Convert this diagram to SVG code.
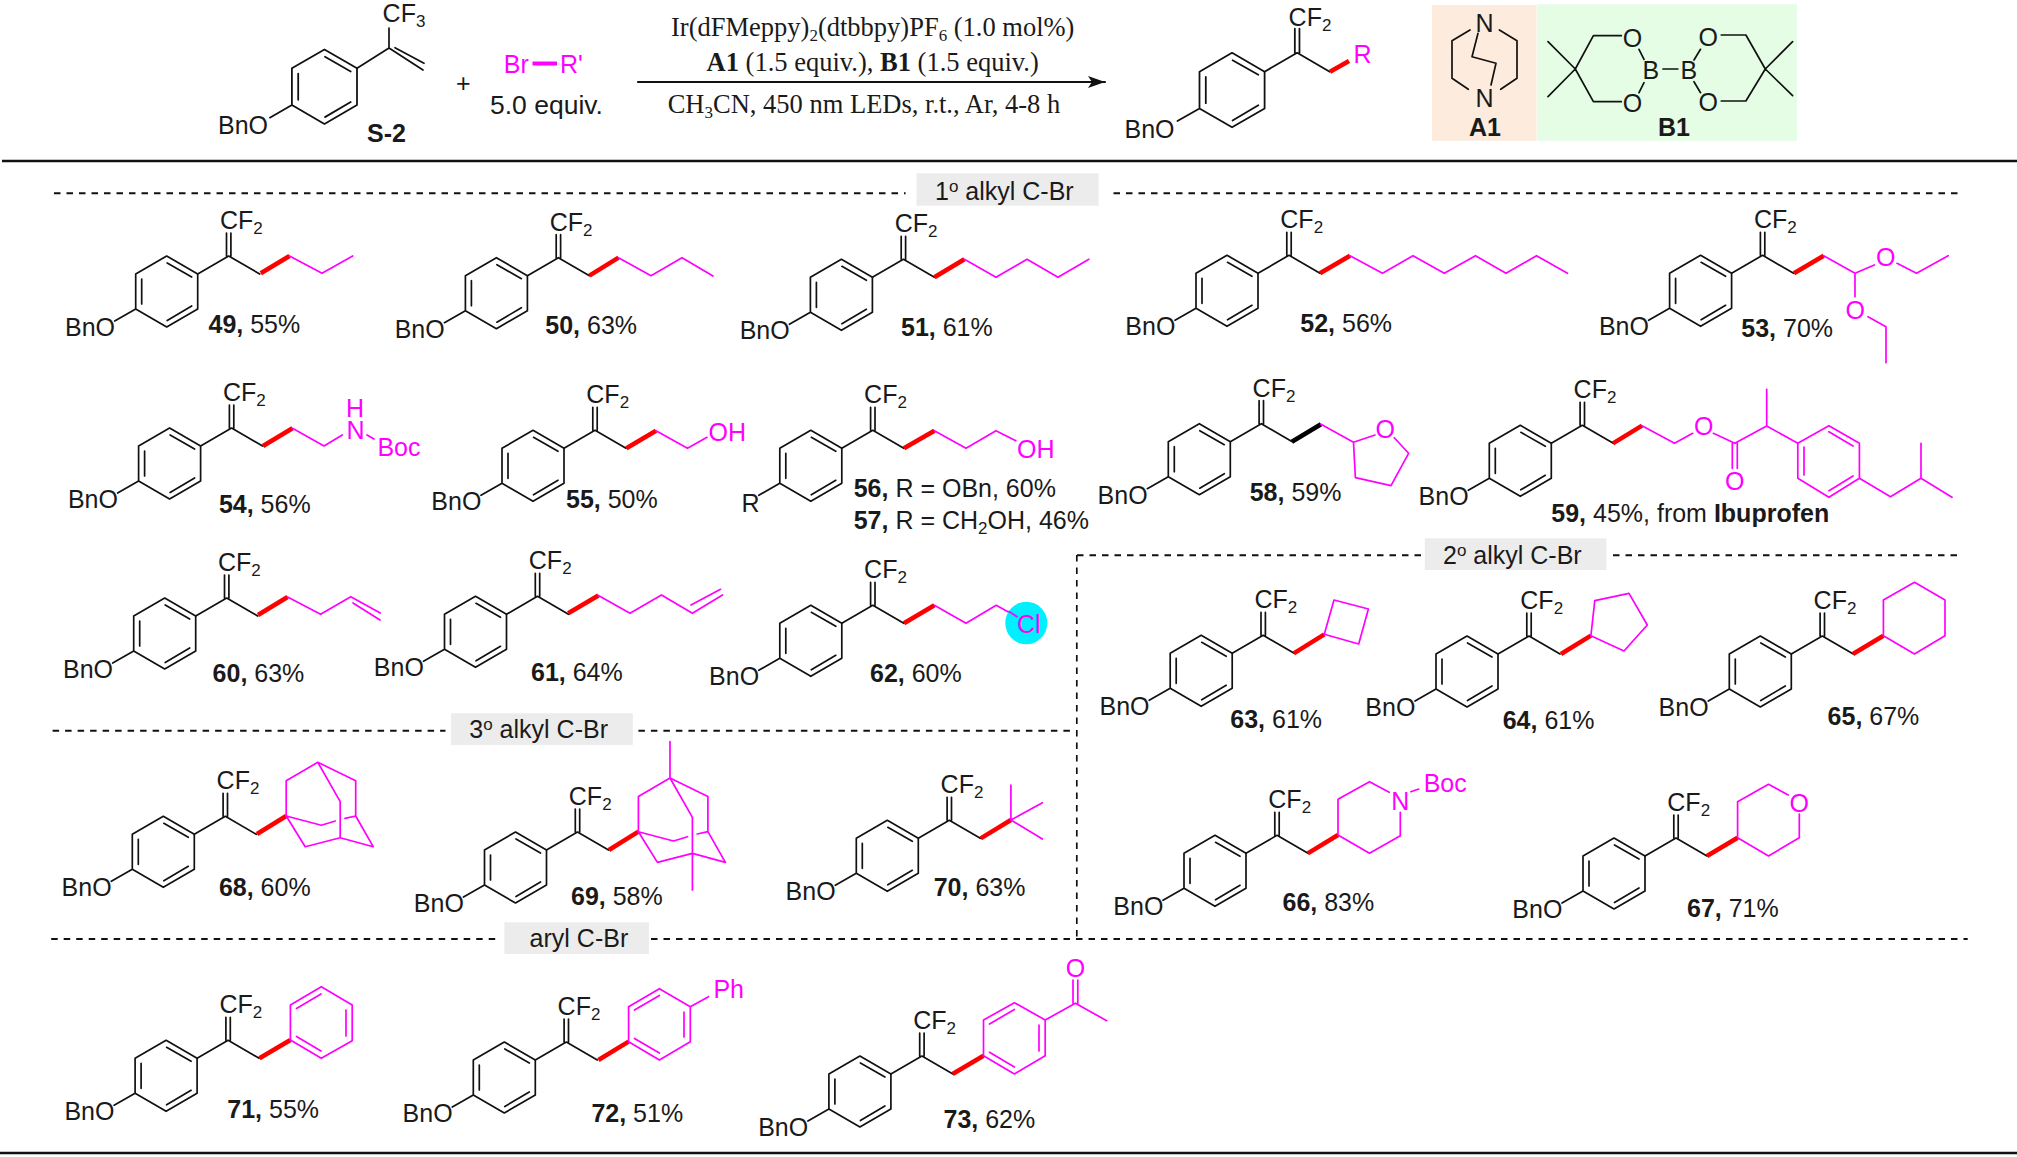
<svg xmlns="http://www.w3.org/2000/svg" width="2017" height="1157" viewBox="0 0 2017 1157">
<style>
text{font-family:"Liberation Sans",Arial,sans-serif;font-size:25px;fill:#1a1a1a}
.serif{font-family:"Liberation Serif","Times New Roman",serif;font-size:26.5px}
.b{font-weight:bold}
.s{font-size:17px}
.m{fill:#f0f}
path,line{fill:none;stroke:#111;stroke-width:1.7;stroke-linejoin:round;stroke-linecap:round}
.mg{stroke:#f0f}
.red{stroke:#f00;stroke-width:4.5;stroke-linecap:butt}
.blk{stroke:#000;stroke-width:4.5;stroke-linecap:butt}
.rule{stroke:#111;stroke-width:2.6;stroke-linecap:butt}
.dash{stroke:#111;stroke-width:2;stroke-dasharray:6.5 6;stroke-linecap:butt}
.tag{fill:#ececec}
</style>
<defs>
<marker id="ah" markerUnits="userSpaceOnUse" markerWidth="18" markerHeight="12" refX="17" refY="6" orient="auto"><path d="M0 0L17 6L0 12L4 6Z" style="fill:#111;stroke:none"/></marker>
<g id="ring"><path d="M-31 -18L0 0V35L-31 53L-62 35V0ZM-30.5 -11L-6 3M-6 32L-30.5 46.5M-56 5V30M-62 35L-83 47"/></g>
<g id="core"><use href="#ring"/><path d="M0 0L31 -18L62 0M28.8 -18V-41M33.2 -18V-41"/></g>
</defs>

<rect x="1432" y="5" width="104.500" height="135.700" fill="#fdebdd"/>
<rect x="1537" y="4.300" width="260" height="136.400" fill="#e4fde4"/>

<g id="connectors">
<line class="rule" x1="2" y1="161" x2="2017" y2="161"/>
<line class="rule" x1="0" y1="1153" x2="2017" y2="1153"/>
<line x1="638" y1="82" x2="1105" y2="82" style="stroke-width:2.2" marker-end="url(#ah)"/>
<line class="dash" x1="54" y1="193.300" x2="905.600" y2="193.300"/>
<line class="dash" x1="1113.500" y1="193.300" x2="1958.600" y2="193.300"/>
<line class="dash" x1="1077" y1="555.300" x2="1421.600" y2="555.300"/>
<line class="dash" x1="1613" y1="555.300" x2="1958.600" y2="555.300"/>
<line class="dash" x1="1076.800" y1="555" x2="1076.800" y2="938" style="stroke-width:1.7"/>
<line class="dash" x1="52.600" y1="730.700" x2="445.500" y2="730.700"/>
<line class="dash" x1="638.400" y1="730.700" x2="1073" y2="730.700"/>
<line class="dash" x1="51.200" y1="939" x2="499.500" y2="939"/>
<line class="dash" x1="651" y1="939" x2="1967.700" y2="939"/>
</g>

<g id="tag1"><rect class="tag" x="916.500" y="173.300" width="182.100" height="32.400"/><text x="935" y="200">1<tspan class="s" dy="-8">o</tspan><tspan dy="8"> alkyl C-Br</tspan></text></g>
<g id="tag2"><rect class="tag" x="1424.800" y="538.300" width="181.600" height="31.700"/><text x="1443" y="564.300">2<tspan class="s" dy="-8">o</tspan><tspan dy="8"> alkyl C-Br</tspan></text></g>
<g id="tag3"><rect class="tag" x="451" y="713.300" width="181.800" height="31.700"/><text x="469.300" y="738">3<tspan class="s" dy="-8">o</tspan><tspan dy="8"> alkyl C-Br</tspan></text></g>
<g id="tag4"><rect class="tag" x="504.400" y="922.300" width="144.500" height="31.700"/><text x="529.600" y="946.700">aryl C-Br</text></g>

<g id="conditions">
<text class="serif" x="671" y="36">Ir(dFMeppy)<tspan class="s" dy="5">2</tspan><tspan dy="-5">(dtbbpy)PF</tspan><tspan class="s" dy="5">6</tspan><tspan dy="-5"> (1.0 mol%)</tspan></text>
<text class="serif" x="706.600" y="71"><tspan class="b">A1</tspan> (1.5 equiv.), <tspan class="b">B1</tspan> (1.5 equiv.)</text>
<text class="serif" x="667.700" y="112.700">CH<tspan class="s" dy="5">3</tspan><tspan dy="-5">CN, 450 nm LEDs, r.t., Ar, 4-8 h</tspan></text>
</g>

<g id="S-2">
<use href="#ring" transform="translate(357,68.300) scale(1.05)"/>
<path d="M357 68.300L389 48L423 70M395 47.700L424 63.300M389 48V28"/>
<text x="218" y="134">BnO</text>
<text x="382.600" y="21.700">CF<tspan class="s" dy="5">3</tspan></text>
<text class="b" x="367" y="141.700">S-2</text>
</g>
<g id="plus"><text x="456" y="92">+</text></g>
<g id="reagent">
<text class="m" x="503.800" y="73.300">Br</text><line class="mg" x1="532.500" y1="63.500" x2="557" y2="63.500" style="stroke-width:4;stroke-linecap:butt"/><text class="m" x="560" y="73.300">R'</text>
<text x="490" y="114" style="font-size:26.5px">5.0 equiv.</text>
</g>
<g id="product">
<use href="#core" transform="translate(1264.600,71.700) scale(1.05)"/>
<line class="red" x1="1330" y1="71.700" x2="1349" y2="61"/>
<text x="1288.600" y="26">CF<tspan class="s" dy="5">2</tspan></text>
<text x="1124.500" y="138">BnO</text>
<text class="m" x="1353.500" y="63">R</text>
</g>
<g id="A1">
<path d="M1470 30L1452 40.700V78.300L1468.300 89.300M1499.400 30L1517 40.700V78.300L1500.700 89.300M1478 33.300L1472 56.700L1496 63.300L1491 85"/>
<text x="1475.500" y="32.300">N</text><text x="1475.500" y="107.300">N</text>
<text class="b" x="1469" y="136">A1</text>
</g>
<g id="B1">
<path d="M1548 41.700L1575.300 69L1548 96.700M1575.300 69L1593.400 35.700H1621.300M1575.300 69L1593.400 101.700H1621.300M1639 49.300L1644 59.300M1644 82.700L1639 92.700M1663 69H1677.800M1700.500 49.300L1694 60M1694 81.700L1700.500 92.700M1721.300 35H1745.900L1765.300 69L1745.900 101H1721.300M1792.600 41.700L1765.300 69L1792.600 95.700"/>
<text x="1622.700" y="47">O</text><text x="1622.700" y="112">O</text><text x="1698.600" y="46">O</text><text x="1698.600" y="111">O</text>
<text x="1642.500" y="79">B</text><text x="1680.500" y="79">B</text>
<text class="b" x="1658" y="136">B1</text>
</g>

<g id="c49"><use href="#core" x="197.700" y="274"/><text x="65" y="336">BnO</text><text x="220" y="229">CF<tspan class="s" dy="5">2</tspan></text>
<line class="red" x1="260.800" y1="273.300" x2="289.500" y2="256"/><path class="mg" d="M289.500 256L322 273.300L352.700 256"/>
<text x="208.500" y="333"><tspan class="b">49,</tspan> 55%</text></g>

<g id="c50"><use href="#core" x="527.400" y="275.700"/><text x="394.700" y="337.700">BnO</text><text x="549.700" y="230.700">CF<tspan class="s" dy="5">2</tspan></text>
<line class="red" x1="589.400" y1="275.700" x2="618.500" y2="257.700"/><path class="mg" d="M618.500 257.700L651 275.700L682 257.700L713 276"/>
<text x="545.300" y="334.300"><tspan class="b">50,</tspan> 63%</text></g>

<g id="c51"><use href="#core" x="872.400" y="277.300"/><text x="739.700" y="339.300">BnO</text><text x="894.700" y="232.300">CF<tspan class="s" dy="5">2</tspan></text>
<line class="red" x1="934.400" y1="277.300" x2="964.400" y2="259.300"/><path class="mg" d="M964.400 259.300L996 277.300L1027 259.300L1058 277.300L1088.900 259.300"/>
<text x="901" y="336"><tspan class="b">51,</tspan> 61%</text></g>

<g id="c52"><use href="#core" x="1258" y="273.300"/><text x="1125.300" y="335.300">BnO</text><text x="1280.300" y="228.300">CF<tspan class="s" dy="5">2</tspan></text>
<line class="red" x1="1320" y1="273.300" x2="1350" y2="255.700"/><path class="mg" d="M1350 255.700L1382.500 273.300L1413 255.700L1444.300 273.300L1475.500 255.700L1506 273.300L1536.500 255.700L1567.500 273.300"/>
<text x="1300.300" y="332.300"><tspan class="b">52,</tspan> 56%</text></g>

<g id="c53"><use href="#core" x="1731.600" y="273.300"/><text x="1598.900" y="335.300">BnO</text><text x="1753.900" y="228.300">CF<tspan class="s" dy="5">2</tspan></text>
<line class="red" x1="1794" y1="273.300" x2="1823.700" y2="255.700"/><path class="mg" d="M1823.700 255.700L1855 273.300L1874.300 265M1897 263.300L1916.500 273.300L1948.200 255.700M1855 273.300V296.700M1868 316.700L1886 326.700V362.700"/>
<text class="m" x="1876" y="265.500">O</text><text class="m" x="1845.500" y="318.800">O</text>
<text x="1741.300" y="336.700"><tspan class="b">53,</tspan> 70%</text></g>

<g id="c54"><use href="#core" x="200.600" y="446"/><text x="67.900" y="508">BnO</text><text x="222.900" y="401">CF<tspan class="s" dy="5">2</tspan></text>
<line class="red" x1="263" y1="446" x2="292.500" y2="428.300"/><path class="mg" d="M292.500 428.300L324 446L342.300 435M367 435L374 439"/>
<text class="m" x="346" y="417.300">H</text><text class="m" x="346.500" y="438.800">N</text><text class="m" x="377.400" y="455.700">Boc</text>
<text x="218.900" y="513.300"><tspan class="b">54,</tspan> 56%</text></g>

<g id="c55"><use href="#core" x="564" y="448.300"/><text x="431.300" y="510.300">BnO</text><text x="586.300" y="403.300">CF<tspan class="s" dy="5">2</tspan></text>
<line class="red" x1="626.400" y1="448.300" x2="656" y2="430.700"/><path class="mg" d="M656 430.700L687.500 448.300L707 437.300"/>
<text class="m" x="708.500" y="440.700">OH</text>
<text x="566" y="507.700"><tspan class="b">55,</tspan> 50%</text></g>

<g id="c56-57"><use href="#core" x="841.800" y="448.300"/><text x="741.500" y="511.700">R</text><text x="864.100" y="403.300">CF<tspan class="s" dy="5">2</tspan></text>
<line class="red" x1="904" y1="448.300" x2="934.400" y2="430.700"/><path class="mg" d="M934.400 430.700L966 448.300L996 430.700L1015.800 440.700"/>
<text class="m" x="1017" y="457.700">OH</text>
<text x="853.700" y="496.700"><tspan class="b">56,</tspan> R = OBn, 60%</text>
<text x="853.700" y="529"><tspan class="b">57,</tspan> R = CH<tspan class="s" dy="5">2</tspan><tspan dy="-5">OH, 46%</tspan></text></g>

<g id="c58"><use href="#core" x="1230.300" y="441.700"/><text x="1097.600" y="503.700">BnO</text><text x="1252.600" y="396.700">CF<tspan class="s" dy="5">2</tspan></text>
<line class="blk" x1="1291.900" y1="441.700" x2="1321" y2="424.300"/><path class="mg" d="M1321 424.300L1353.500 442.300L1375 435M1394.300 437.700L1408.600 453.300L1391 485.700L1355.400 477.700L1353.500 442.300"/>
<text class="m" x="1375.500" y="437.500">O</text>
<text x="1249.700" y="500.700"><tspan class="b">58,</tspan> 59%</text></g>

<g id="c59"><use href="#core" x="1551.300" y="443.300"/><text x="1418.600" y="505.300">BnO</text><text x="1573.600" y="398.300">CF<tspan class="s" dy="5">2</tspan></text>
<line class="red" x1="1613" y1="443.300" x2="1642" y2="425.700"/><path class="mg" d="M1642 425.700L1674.500 443.300L1692.700 433.300M1713.400 433.300L1734.800 443.300L1766.700 426L1797.800 443.300M1732.300 443.300V468.300M1737.300 443.300V468.300M1766.700 426V389.300M1797.800 443.300L1828.900 425.700L1859.400 443.300V478.300L1828.900 497.300L1797.800 478.300ZM1804 447V475M1828.900 431.700L1853 446M1829 490.700L1853 476M1859.400 478.300L1890.500 496.700L1921 478.300V443.300M1921 478.300L1952 497.300"/>
<text class="m" x="1694" y="435">O</text><text class="m" x="1725" y="489.500">O</text>
<text x="1551.300" y="522.300"><tspan class="b">59,</tspan> 45%, from <tspan class="b">Ibuprofen</tspan></text></g>

<g id="c60"><use href="#core" x="195.700" y="616"/><text x="63" y="678">BnO</text><text x="218" y="571">CF<tspan class="s" dy="5">2</tspan></text>
<line class="red" x1="258" y1="615" x2="287.600" y2="597"/><path class="mg" d="M287.600 597L320.600 614.300L350.800 596.700L380.200 613M353 603L380 620"/>
<text x="212.600" y="682.300"><tspan class="b">60,</tspan> 63%</text></g>

<g id="c61"><use href="#core" x="506.500" y="614.300"/><text x="373.800" y="676.300">BnO</text><text x="528.800" y="569.300">CF<tspan class="s" dy="5">2</tspan></text>
<line class="red" x1="568.200" y1="613.300" x2="598.400" y2="595.500"/><path class="mg" d="M598.400 595.500L630 613.300L661.500 595L692.400 613.300L722.500 595M691 605L720.500 589.300"/>
<text x="531" y="680.700"><tspan class="b">61,</tspan> 64%</text></g>

<g id="c62"><use href="#core" x="841.800" y="623.300"/><text x="709.100" y="685.300">BnO</text><text x="864.100" y="578.300">CF<tspan class="s" dy="5">2</tspan></text>
<line class="red" x1="904" y1="623.300" x2="934.400" y2="605.300"/><path class="mg" d="M934.400 605.300L966 623.300L996.200 605.300L1017 616.700"/>
<ellipse cx="1026.300" cy="623" rx="21" ry="21.300" fill="#00f0ff"/><path class="mg" d="M1009 611.500L1017 616.700"/>
<text class="m" x="1017" y="632.700">Cl</text>
<text x="870" y="681.700"><tspan class="b">62,</tspan> 60%</text></g>

<g id="c68"><use href="#core" x="194.300" y="834.300"/><text x="61.600" y="896.300">BnO</text><text x="216.600" y="789.300">CF<tspan class="s" dy="5">2</tspan></text>
<line class="red" x1="257" y1="834" x2="286.200" y2="816"/><path class="mg" d="M286.200 816V780.700L317.800 762.300L355.700 780.700V816L345 818.300M286.200 816L321.300 825.300L335.300 821M286.200 816L305.200 846.700L340.200 837.700L373.200 846.700L355.700 816M340.200 837.700V801.700L317.800 762.300"/>
<text x="218.900" y="895.700"><tspan class="b">68,</tspan> 60%</text></g>

<g id="c69"><use href="#core" x="546.500" y="850"/><text x="413.800" y="912">BnO</text><text x="568.800" y="805">CF<tspan class="s" dy="5">2</tspan></text>
<line class="red" x1="608.900" y1="850" x2="638.400" y2="831.700"/><path class="mg" d="M638.400 831.700V796.400L670 778L707.900 796.400V831.700L697.200 834M638.400 831.700L673.500 841L687.500 836.700M638.400 831.700L657.400 862.400L692.400 853.400L725.400 862.400L707.900 831.700M692.400 890V817.400L670 778V741.700"/>
<text x="571" y="905"><tspan class="b">69,</tspan> 58%</text></g>

<g id="c70"><use href="#core" x="918.300" y="838.300"/><text x="785.600" y="900.300">BnO</text><text x="940.600" y="793.300">CF<tspan class="s" dy="5">2</tspan></text>
<line class="red" x1="980.700" y1="838.300" x2="1010.900" y2="820"/><path class="mg" d="M1010.900 820V785M1010.900 820L1042.400 802.700M1010.900 820L1042.400 839"/>
<text x="933.700" y="895.700"><tspan class="b">70,</tspan> 63%</text></g>

<g id="c63"><use href="#core" x="1232.200" y="653.300"/><text x="1099.500" y="715.300">BnO</text><text x="1254.500" y="608.300">CF<tspan class="s" dy="5">2</tspan></text>
<line class="red" x1="1293.800" y1="653.300" x2="1324.300" y2="634.300"/><path class="mg" d="M1324.300 634.300L1334 600L1368.400 609L1358.700 644Z"/>
<text x="1230.300" y="728.300"><tspan class="b">63,</tspan> 61%</text></g>

<g id="c64"><use href="#core" x="1498" y="654"/><text x="1365.300" y="716">BnO</text><text x="1520.300" y="609">CF<tspan class="s" dy="5">2</tspan></text>
<line class="red" x1="1561" y1="654" x2="1590.900" y2="635.700"/><path class="mg" d="M1590.900 635.700L1594.800 600.700L1629 593.300L1647.300 625L1624 651Z"/>
<text x="1502.700" y="729.300"><tspan class="b">64,</tspan> 61%</text></g>

<g id="c65"><use href="#core" x="1791.300" y="654"/><text x="1658.600" y="716">BnO</text><text x="1813.600" y="609">CF<tspan class="s" dy="5">2</tspan></text>
<line class="red" x1="1852.900" y1="654" x2="1883.400" y2="635.700"/><path class="mg" d="M1883.400 635.700V600L1914.500 582.300L1945 600V635.700L1914.500 654Z"/>
<text x="1827.600" y="725"><tspan class="b">65,</tspan> 67%</text></g>

<g id="c66"><use href="#core" x="1246" y="853.300"/><text x="1113.300" y="915.300">BnO</text><text x="1268.300" y="808.300">CF<tspan class="s" dy="5">2</tspan></text>
<line class="red" x1="1307.800" y1="853.300" x2="1338" y2="835"/><path class="mg" d="M1338 835V799.300L1369.500 781.700L1389.200 792.300M1400.300 812.300V835.700L1369.500 853.300L1338 835M1410.800 791.700L1418.800 789"/>
<text class="m" x="1391.300" y="809.800">N</text><text class="m" x="1423.700" y="791.700">Boc</text>
<text x="1282.500" y="910.700"><tspan class="b">66,</tspan> 83%</text></g>

<g id="c67"><use href="#core" x="1645" y="856"/><text x="1512.300" y="918">BnO</text><text x="1667.300" y="811">CF<tspan class="s" dy="5">2</tspan></text>
<line class="red" x1="1707" y1="856" x2="1737.600" y2="837.700"/><path class="mg" d="M1737.600 837.700V801.700L1768.500 784.300L1788.200 795M1799.300 814V837.700L1768.500 856L1737.600 837.700"/>
<text class="m" x="1789.600" y="812">O</text>
<text x="1687" y="916.700"><tspan class="b">67,</tspan> 71%</text></g>

<g id="c71"><use href="#core" x="197.100" y="1058.300"/><text x="64.400" y="1120.300">BnO</text><text x="219.400" y="1013.300">CF<tspan class="s" dy="5">2</tspan></text>
<line class="red" x1="259.500" y1="1058.300" x2="290.400" y2="1040"/><path class="mg" d="M290.400 1040V1005L321.300 986.700L352.200 1005V1040.700L321.300 1058.300ZM296.500 1008.500L321 994M346 1010V1036M296.500 1036.500L321 1051"/>
<text x="227.300" y="1118.300"><tspan class="b">71,</tspan> 55%</text></g>

<g id="c72"><use href="#core" x="535.300" y="1060"/><text x="402.600" y="1122">BnO</text><text x="557.600" y="1015">CF<tspan class="s" dy="5">2</tspan></text>
<line class="red" x1="598.400" y1="1060" x2="628.600" y2="1041.700"/><path class="mg" d="M628.600 1041.700V1006.700L659.400 988.700L690.300 1006.700V1041.700L659.400 1060ZM634.500 1010L659.400 995.500M684 1012V1037M634.500 1038.500L659.400 1053M690.300 1006.700L708.500 996.700"/>
<text class="m" x="713.400" y="998.300">Ph</text>
<text x="591.400" y="1122.300"><tspan class="b">72,</tspan> 51%</text></g>

<g id="c73"><use href="#core" x="890.900" y="1074"/><text x="758.200" y="1136">BnO</text><text x="913.200" y="1029">CF<tspan class="s" dy="5">2</tspan></text>
<line class="red" x1="952.600" y1="1074" x2="983.500" y2="1055.700"/><path class="mg" d="M983.500 1055.700V1020L1014.400 1002.700L1045.200 1020V1055.700L1014.400 1074ZM989.500 1024L1014.400 1009.500M1039 1025V1051M989.500 1052.300L1014.400 1067M1045.200 1020L1075.400 1003.300L1106.700 1020.700M1073 1003.300V980M1077.800 1003.300V980"/>
<text class="m" x="1065.800" y="977.200">O</text>
<text x="943.500" y="1128.300"><tspan class="b">73,</tspan> 62%</text></g>
</svg>
